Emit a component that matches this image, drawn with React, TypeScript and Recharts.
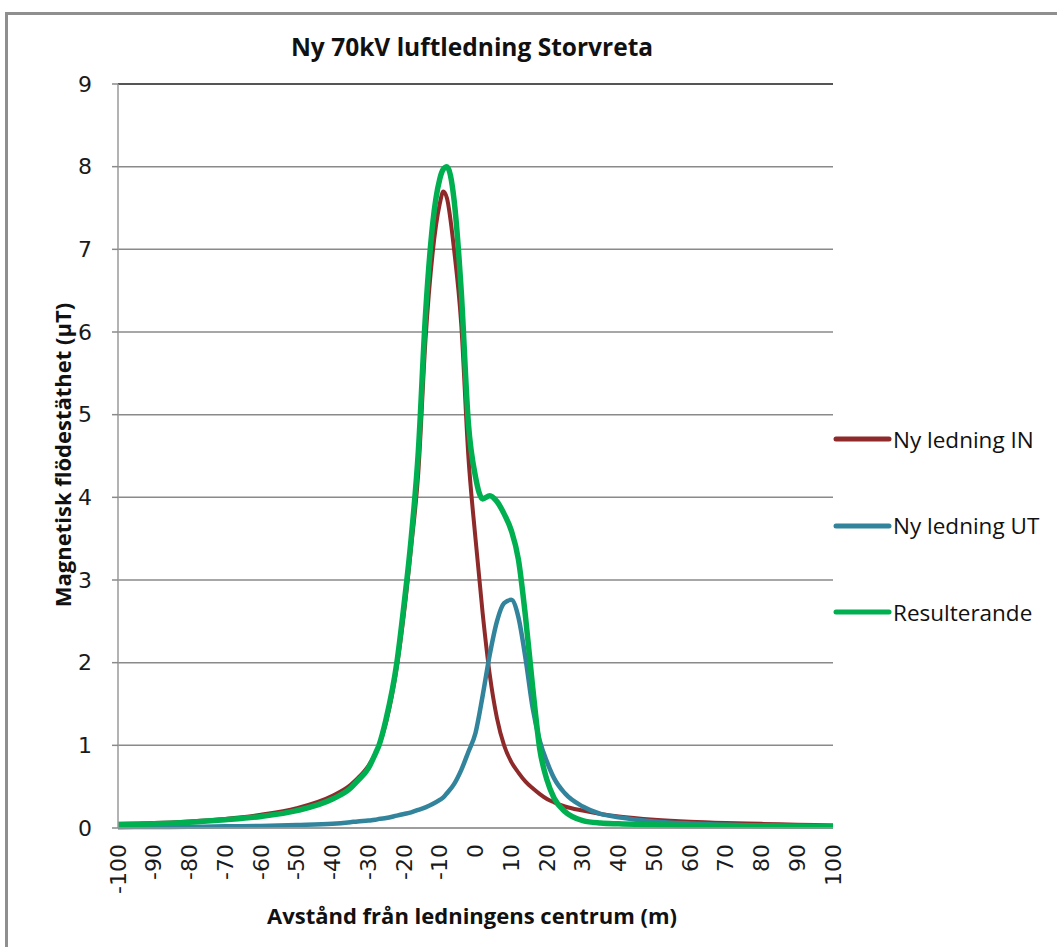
import React from 'react';
import { LineChart, Line, XAxis, YAxis, CartesianGrid, ReferenceLine } from 'recharts';

const distances = [-100, -90, -80, -70, -60, -50, -40, -35, -33, -30, -28, -27, -25, -22, -20, -18, -16, -14, -12, -10, -9, -8, -6, -4, -2, 0, 2, 4, 6, 8, 10, 12, 14, 16, 18, 20, 22, 25, 30, 35, 40, 50, 60, 70, 80, 90, 100];

const nyLedningIN = [0.05, 0.06, 0.08, 0.11, 0.16, 0.24, 0.39, 0.52, 0.6, 0.75, 0.9, 1.0, 1.28, 1.95, 2.6, 3.4, 4.3, 5.9, 6.95, 7.55, 7.7, 7.62, 7.0, 6.1, 4.5, 3.5, 2.6, 1.85, 1.33, 1.0, 0.8, 0.67, 0.56, 0.48, 0.41, 0.35, 0.31, 0.26, 0.21, 0.17, 0.14, 0.1, 0.075, 0.06, 0.05, 0.04, 0.03];

const nyLedningUT = [0.01, 0.012, 0.015, 0.02, 0.025, 0.035, 0.05, 0.07, 0.08, 0.09, 0.1, 0.11, 0.12, 0.15, 0.17, 0.19, 0.22, 0.25, 0.29, 0.34, 0.37, 0.42, 0.53, 0.7, 0.92, 1.15, 1.6, 2.1, 2.5, 2.72, 2.76, 2.55, 2.05, 1.45, 1.05, 0.8, 0.6, 0.42, 0.26, 0.17, 0.13, 0.08, 0.055, 0.04, 0.03, 0.025, 0.02];

const resulterande = [0.04, 0.05, 0.07, 0.1, 0.14, 0.21, 0.35, 0.48, 0.57, 0.72, 0.9, 1.0, 1.32, 2.0, 2.7, 3.5, 4.55, 6.2, 7.3, 7.85, 7.97, 8.0, 7.6, 6.5, 4.9, 4.25, 3.98, 4.02, 3.95, 3.8, 3.6, 3.25, 2.55, 1.7, 0.95, 0.58, 0.36, 0.2, 0.09, 0.06, 0.05, 0.04, 0.03, 0.03, 0.025, 0.02, 0.02];

const xTicks = [-100, -90, -80, -70, -60, -50, -40, -30, -20, -10, 0, 10, 20, 30, 40, 50, 60, 70, 80, 90, 100];
const yTicks = [0, 1, 2, 3, 4, 5, 6, 7, 8, 9];

const seriesNames = ['Ny ledning IN', 'Ny ledning UT', 'Resulterande'];
const seriesColors = ['#8E2A2A', '#31849B', '#00B050'];

const rows = distances.map((x, i) => ({
  x,
  in: nyLedningIN[i],
  ut: nyLedningUT[i],
  res: resulterande[i],
}));

const XTick = (props: any) => {
  const { x, y, payload } = props;
  return (
    <text
      x={x}
      y={y}
      transform={`rotate(-90, ${x}, ${y})`}
      textAnchor="end"
      dominantBaseline="central"
      fontFamily="DejaVu Sans"
      fontSize={22}
      fill="#1a1a1a"
    >
      {payload.value}
    </text>
  );
};

const YTick = (props: any) => {
  const { x, y, payload } = props;
  return (
    <text x={x} y={y} textAnchor="end" dominantBaseline="central" fontFamily="DejaVu Sans" fontSize={22} fill="#1a1a1a">
      {payload.value}
    </text>
  );
};

const LegendBlock = () => (
  <div style={{ position: 'absolute', left: 831, top: 396, width: 226, fontFamily: 'Open Sans', fontSize: 22.5, color: '#111' }}>
    {seriesNames.map((n, i) => (
      <div key={n} style={{ display: 'flex', alignItems: 'center', height: 86.5 }}>
        <svg width={62} height={10} style={{ display: 'block', flex: 'none' }}>
          <line x1={5} y1={5} x2={58} y2={5} stroke={seriesColors[i]} strokeWidth={5} strokeLinecap="round" />
        </svg>
        <span style={{ whiteSpace: 'nowrap' }}>{n}</span>
      </div>
    ))}
  </div>
);

export default function App() {
  return (
    <div style={{ position: 'absolute', left: 0, top: 0, width: 1057, height: 947, background: '#fff', overflow: 'hidden' }}>
      <div style={{ position: 'absolute', left: 5, top: 12, width: 1200, height: 1200, border: '3px solid #8f8f8f', boxSizing: 'border-box' }} />
      <div style={{ position: 'absolute', left: 0, top: 0 }}>
        <LineChart width={1057} height={947} data={rows} margin={{ top: 84, right: 224, bottom: 49, left: 58 }}>
          <CartesianGrid vertical={false} stroke="#8a8a8a" strokeWidth={1.5} />
          <ReferenceLine y={9} stroke="#555" strokeWidth={2} />
          <XAxis
            dataKey="x"
            type="number"
            domain={[-100, 100]}
            ticks={xTicks}
            interval={0}
            height={70}
            axisLine={{ stroke: '#9a9a9a', strokeWidth: 1.5 }}
            tickLine={false}
            tickMargin={10}
            tick={<XTick />}
          />
          <YAxis
            type="number"
            domain={[0, 9]}
            ticks={yTicks}
            interval={0}
            width={60}
            axisLine={{ stroke: '#9a9a9a', strokeWidth: 1.5 }}
            tickLine={{ stroke: '#8a8a8a', strokeWidth: 1.5 }}
            tickSize={6}
            tickMargin={20}
            tick={<YTick />}
          />
          <Line type="monotone" dataKey="in" name={seriesNames[0]} stroke={seriesColors[0]} strokeWidth={4} dot={false} isAnimationActive={false} />
          <Line type="monotone" dataKey="ut" name={seriesNames[1]} stroke={seriesColors[1]} strokeWidth={4.5} dot={false} isAnimationActive={false} />
          <Line type="monotone" dataKey="res" name={seriesNames[2]} stroke={seriesColors[2]} strokeWidth={5.5} dot={false} isAnimationActive={false} />
        </LineChart>
      </div>
      <LegendBlock />
      <div style={{ position: 'absolute', left: 222, top: 30, width: 500, textAlign: 'center', fontFamily: 'Open Sans', fontWeight: 700, fontSize: 24.5, color: '#111', whiteSpace: 'nowrap' }}>
        Ny 70kV luftledning Storvreta
      </div>
      <div style={{ position: 'absolute', left: 172, top: 900, width: 600, textAlign: 'center', fontFamily: 'Open Sans', fontWeight: 700, fontSize: 22, color: '#111', whiteSpace: 'nowrap' }}>
        Avstånd från ledningens centrum (m)
      </div>
      <div style={{ position: 'absolute', left: 62, top: 455, width: 0, height: 0 }}>
        <div style={{ position: 'absolute', left: 0, top: 0, transform: 'translate(-50%, -50%) rotate(-90deg)', fontFamily: 'Open Sans', fontWeight: 700, fontSize: 22, color: '#111', whiteSpace: 'nowrap' }}>
          Magnetisk flödestäthet (µT)
        </div>
      </div>
    </div>
  );
}
